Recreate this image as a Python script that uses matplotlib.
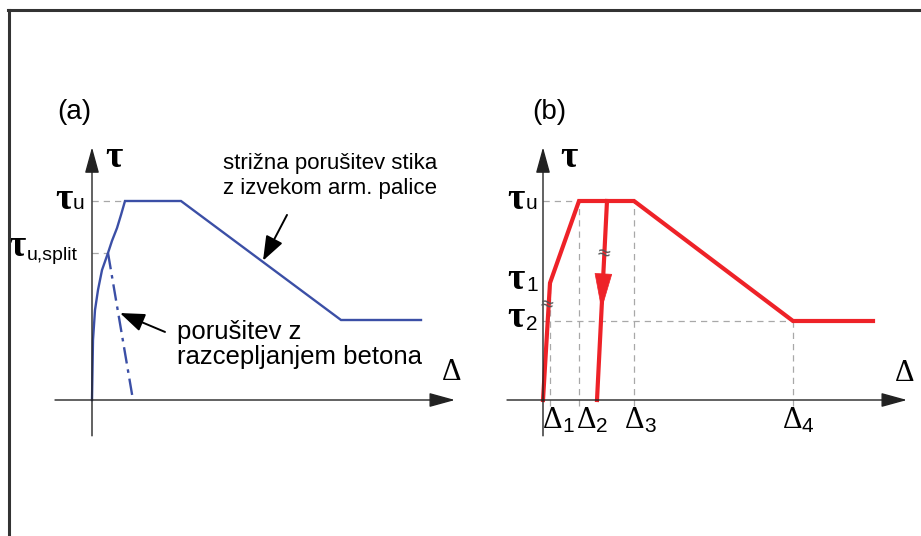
import matplotlib
matplotlib.use("Agg")
import matplotlib.pyplot as plt
from matplotlib.lines import Line2D

# --- data (tau normalised to tau_u = 1, delta in arbitrary units) ---
# (a) envelope: ascending curve, plateau, softening branch, residual
a_delta = [0, 0.005, 0.01, 0.03, 0.06, 0.10, 0.16, 0.20, 0.25, 0.29, 0.33, 0.89, 2.49, 3.29]
a_tau = [0, 0.151, 0.302, 0.452, 0.553, 0.653, 0.739, 0.80, 0.864, 0.93, 1.0, 1.0, 0.402, 0.402]
# (a) splitting failure branch
split_delta = [0.16, 0.41]
split_tau = [0.739, 0.0]
a_tau_u = 1.0
a_tau_split = 0.739
a_delta_u = 0.33

# (b) multilinear model
b_delta = [0, 0.07, 0.36, 0.91, 2.50, 3.30]
b_tau = [0, 0.588, 1.0, 1.0, 0.397, 0.397]
unload_delta = [0.64, 0.54]
unload_tau = [1.0, 0.0]
b_tau_u, b_tau_1, b_tau_2 = 1.0, 0.588, 0.397
b_ticks = [0.07, 0.36, 0.91, 2.50]
b_tick_labels = ["1", "2", "3", "4"]

BLUE = "#3b4fa6"
RED = "#ee2228"
GREY = "#a8a8a8"
INK = "#222222"
SERIF = "Liberation Serif"
SANS = "Liberation Sans"
TW = "bold"    # weight of tau
DW = "normal"  # weight of delta

W, H = 921, 536
fig = plt.figure(figsize=(W / 100, H / 100), dpi=100)
fig.patch.set_facecolor("white")

# frame (top and left only)
fig.add_artist(Line2D([8 / W, 1], [1 - 10 / H] * 2, transform=fig.transFigure, color="#333333", lw=2.2))
fig.add_artist(Line2D([9 / W] * 2, [0, 1 - 10 / H], transform=fig.transFigure, color="#333333", lw=2.2))

XL, YL = (-0.5, 4.0), (-0.25, 1.5)


def make_ax(x0_px, y0_px):
    left = (x0_px + XL[0] * 100) / W
    bottom = (H - (y0_px - YL[0] * 199)) / H
    ax = fig.add_axes([left, bottom, (XL[1] - XL[0]) * 100 / W, (YL[1] - YL[0]) * 199 / H])
    ax.set_xlim(*XL)
    ax.set_ylim(*YL)
    ax.axis("off")
    return ax


def axes_arrows(ax, x0, x1, y0, y1):
    kw = dict(arrowstyle="-|>,head_length=0.8,head_width=0.22", mutation_scale=20,
              color=INK, lw=1.0, shrinkA=0, shrinkB=0)
    ax.annotate("", xy=(x1, 0), xytext=(x0, 0), arrowprops=kw, annotation_clip=False)
    ax.annotate("", xy=(0, y1), xytext=(0, y0), arrowprops=kw, annotation_clip=False)


def glabel(ax, x, y, g, sub, dx, dy, gsize=27, ssize=15):
    ax.text(x, y, g, fontsize=gsize, family=SERIF, weight=TW, ha="left", va="center", clip_on=False)
    ax.annotate(sub, (x, y), xytext=(dx, dy), textcoords="offset pixels", fontsize=ssize,
                family=SANS, ha="left", va="center", annotation_clip=False)


def breakmark(ax, x, y):
    ax.text(x, y, "≈", fontsize=13, color="#555555", ha="center", va="center", rotation=-12)


# ---------------- (a) ----------------
ax = make_ax(92, 400)
axes_arrows(ax, -0.37, 3.63, -0.18, 1.27)
ax.plot([0, a_delta_u], [a_tau_u] * 2, ls=(0, (5, 4)), color=GREY, lw=0.9)
ax.plot([0, split_delta[0]], [a_tau_split] * 2, ls=(0, (5, 4)), color=GREY, lw=0.9)
ax.plot(a_delta, a_tau, color=BLUE, lw=1.7, solid_joinstyle="miter")
ax.plot(split_delta, split_tau, color=BLUE, lw=1.7, ls=(0, (7, 2.5, 1.5, 2.5)))

ax.text(-0.18, 1.445, "(a)", fontsize=20, family=SANS, ha="center", va="center")
ax.text(0.13, 1.22, "τ", fontsize=27, family=SERIF, weight=TW, ha="left", va="center")
ax.text(3.50, 0.14, "Δ", fontsize=22, family=SERIF, weight=DW, ha="left", va="center")
glabel(ax, -0.37, 1.01, "τ", "u", 18, -4)
glabel(ax, -0.84, 0.77, "τ", "u,split", 19, -9, ssize=14)

ax.text(1.31, 1.125, "strižna porušitev stika\nz izvekom arm. palice", fontsize=16,
        family=SANS, ha="left", va="center", linespacing=1.25)
ax.annotate("", xy=(1.71, 0.70), xytext=(1.95, 0.93),
            arrowprops=dict(arrowstyle="-|>,head_length=0.75,head_width=0.28", mutation_scale=20,
                            color="black", lw=1.4, shrinkA=0, shrinkB=0))
ax.text(0.85, 0.277, "porušitev z\nrazcepljanjem betona", fontsize=18.5,
        family=SANS, ha="left", va="center", linespacing=1.05)
ax.annotate("", xy=(0.28, 0.437), xytext=(0.73, 0.342),
            arrowprops=dict(arrowstyle="-|>,head_length=0.75,head_width=0.28", mutation_scale=20,
                            color="black", lw=1.4, shrinkA=0, shrinkB=0))

# ---------------- (b) ----------------
bx = make_ax(543, 400)
axes_arrows(bx, -0.36, 3.64, -0.18, 1.27)
dash = dict(ls=(0, (5, 4)), color=GREY, lw=0.9)
bx.plot([0, b_ticks[1]], [b_tau_u] * 2, **dash)
bx.plot([0, b_ticks[3]], [b_tau_2] * 2, **dash)
for d, top in zip(b_ticks, [b_tau_1, b_tau_u, b_tau_u, b_tau_2]):
    bx.plot([d, d], [-0.03, top], **dash)

bx.plot(b_delta, b_tau, color=RED, lw=3.0, solid_joinstyle="miter")
bx.plot(unload_delta, unload_tau, color=RED, lw=3.0)
bx.annotate("", xy=(0.585, 0.452), xytext=(0.598, 0.578),
            arrowprops=dict(arrowstyle="-|>,head_length=1.25,head_width=0.3", mutation_scale=20,
                            color=RED, lw=0.5, shrinkA=0, shrinkB=0))
breakmark(bx, 0.03, 0.477)
breakmark(bx, 0.605, 0.734)

bx.text(0.06, 1.445, "(b)", fontsize=20, family=SANS, ha="center", va="center")
bx.text(0.17, 1.22, "τ", fontsize=27, family=SERIF, weight=TW, ha="left", va="center")
bx.text(3.52, 0.135, "Δ", fontsize=22, family=SERIF, weight=DW, ha="left", va="center")
glabel(bx, -0.36, b_tau_u + 0.01, "τ", "u", 19, -4)
glabel(bx, -0.36, b_tau_1 + 0.02, "τ", "1", 19, -6)
glabel(bx, -0.36, b_tau_2 + 0.02, "τ", "2", 19, -7)

for d, s, off in zip(b_ticks, b_tick_labels, [-0.005, -0.02, -0.09, -0.10]):
    x = d + off - 0.065 if s == "1" else d + off
    bx.text(x, -0.105, "Δ", fontsize=22, family=SERIF, weight=DW, ha="left", va="center")
    bx.annotate(s, (x, -0.105), xytext=(19, -6), textcoords="offset pixels", fontsize=15,
                family=SANS, ha="left", va="center", annotation_clip=False)

fig.savefig("out.png", dpi=100, facecolor="white")
